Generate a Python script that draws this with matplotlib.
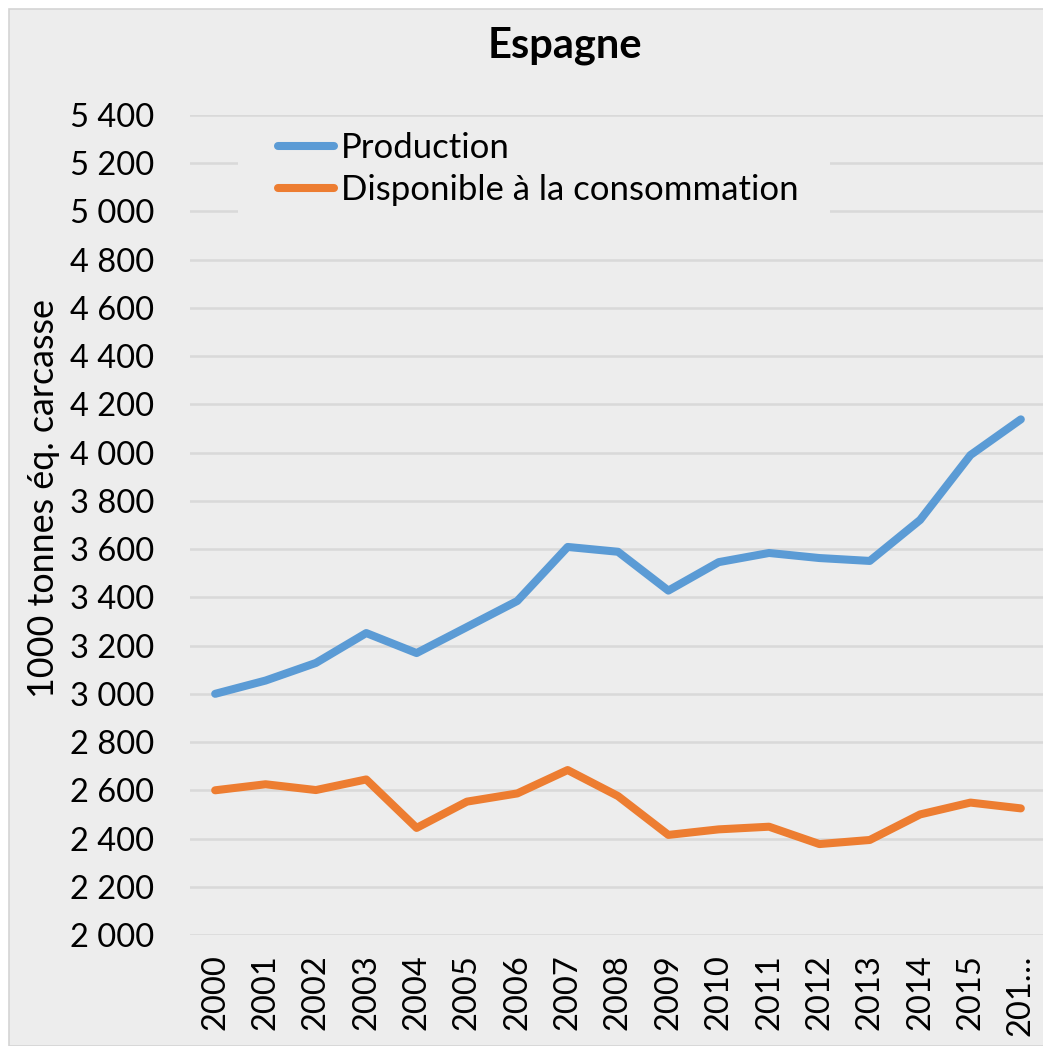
import matplotlib.pyplot as plt
from matplotlib.patches import Rectangle
from matplotlib.ticker import FuncFormatter

plt.rcParams['font.family'] = ['Lato', 'DejaVu Sans']

# Data
years = ['2000', '2001', '2002', '2003', '2004', '2005', '2006', '2007', '2008',
         '2009', '2010', '2011', '2012', '2013', '2014', '2015', '201…']
production = [3000, 3055, 3128, 3252, 3169, 3277, 3385, 3609, 3589,
              3428, 3546, 3584, 3563, 3551, 3721, 3990, 4138]
disponible = [2600, 2625, 2601, 2645, 2444, 2553, 2587, 2684, 2576,
              2415, 2438, 2449, 2377, 2394, 2500, 2549, 2525]

W, H = 1043, 1046
bg = '#ededed'
fig = plt.figure(figsize=(W / 100, H / 100), dpi=100)
fig.patch.set_facecolor('white')
fig.patches.append(Rectangle((9 / W, 0), 1.0, 1 - 9 / H, transform=fig.transFigure,
                             facecolor=bg, edgecolor='#d4d4d4', linewidth=1.2, zorder=-10))

ax = fig.add_axes([190 / W, (H - 935) / H, 856 / W, 820 / H])
ax.set_facecolor(bg)

x = range(len(years))
ax.plot(x, production, color='#5b9bd5', lw=5.8, solid_capstyle='round',
        solid_joinstyle='round', label='Production', zorder=3)
ax.plot(x, disponible, color='#ed7d31', lw=5.8, solid_capstyle='round',
        solid_joinstyle='round', label='Disponible à la consommation', zorder=3)

ax.set_xlim(-0.5, len(years) - 0.5)
ax.set_ylim(2000, 5400)
ax.set_yticks(range(2000, 5401, 200))
ax.yaxis.set_major_formatter(FuncFormatter(lambda v, p: f'{int(v):,}'.replace(',', ' ')))
ax.set_xticks(list(x))
ax.set_xticklabels(years, rotation=90)

ax.grid(axis='y', color='#d9d9d9', lw=1.8)
ax.set_axisbelow(True)
for s in ax.spines.values():
    s.set_visible(False)
ax.tick_params(axis='y', length=0, pad=26, labelsize=23.5)
ax.tick_params(axis='x', length=0, pad=14, labelsize=23.5)

fig.text(565 / W, 1 - 46 / H, 'Espagne', ha='center', va='center',
         fontsize=30, fontweight='bold')
fig.text(44 / W, 1 - 498 / H, '1000 tonnes éq. carcasse', rotation=90,
         ha='center', va='center', fontsize=25.8)

# legend area hides the gridlines behind it
ax.add_patch(Rectangle((238 / W, 1 - 214 / H), 592 / W, 94 / H, transform=fig.transFigure,
                       facecolor=bg, edgecolor='none', zorder=1.5))
leg = ax.legend(loc='upper left', bbox_to_anchor=(278 / W, 1 - 132 / H),
                bbox_transform=fig.transFigure, fontsize=25, frameon=False,
                handlelength=1.6, handletextpad=0.2, labelspacing=0.29,
                borderpad=0, borderaxespad=0)

fig.savefig('out.png', dpi=100, facecolor='white')
